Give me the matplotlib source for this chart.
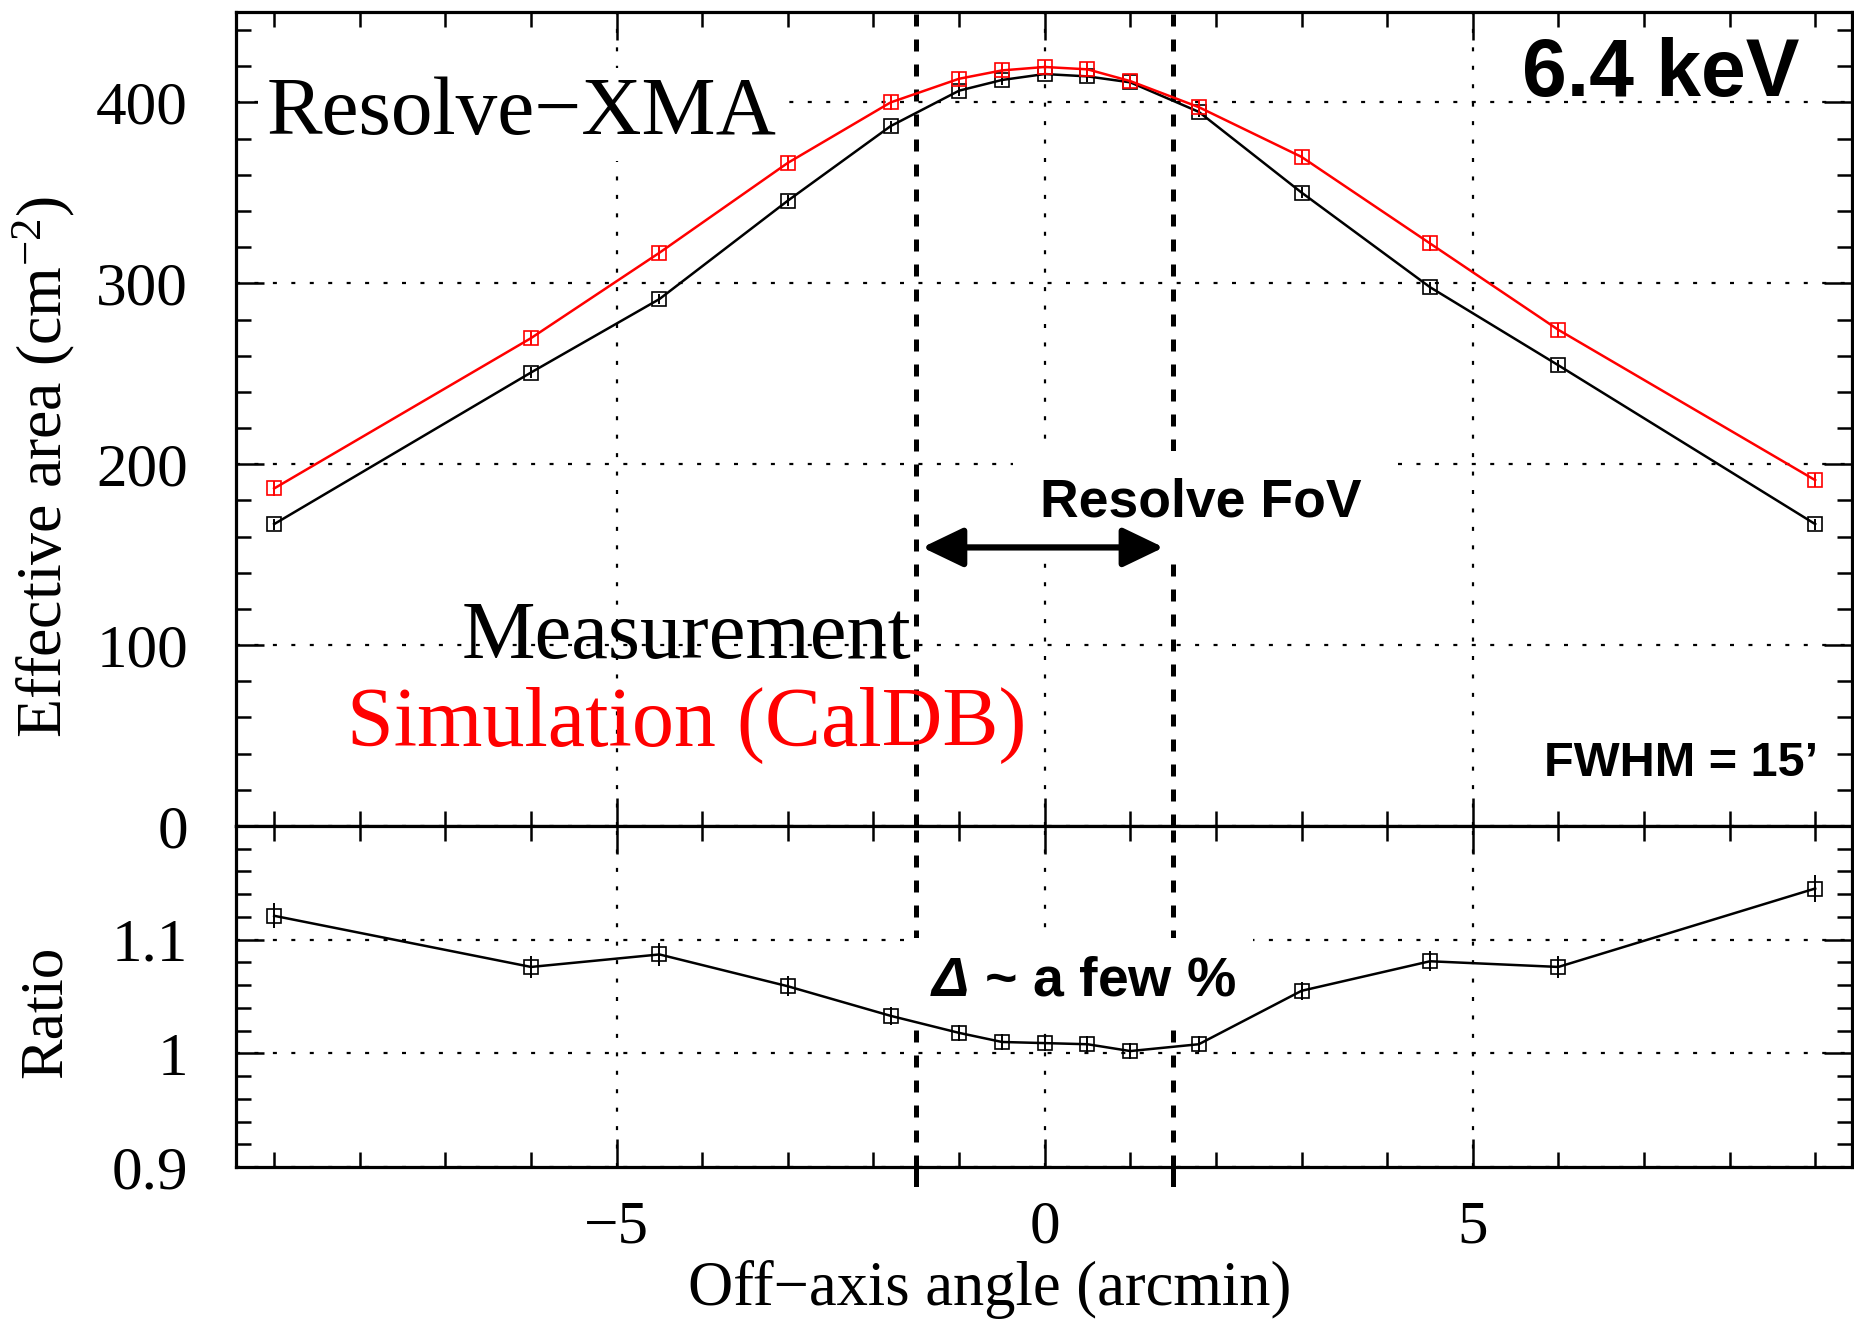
import matplotlib
matplotlib.use('Agg')
import matplotlib.pyplot as plt
from matplotlib.ticker import MultipleLocator, FixedLocator

# off-axis scan at 6.4 keV
angle = [-9, -6, -4.5, -3, -1.8, -1, -0.5, 0, 0.5, 1, 1.8, 3, 4.5, 6, 9]
area_meas = [166.9, 250.7, 291.3, 345.7, 386.9, 406.5, 412.4, 415.7, 414.4, 411.1, 394.8, 350.2, 297.9, 254.7, 166.9]
area_meas_err = [3, 3, 3, 3, 3, 3, 3, 3, 3, 3, 3, 3, 3, 3, 3]
area_sim = [186.6, 269.7, 316.9, 366.6, 400.0, 413.1, 417.7, 419.6, 418.3, 411.8, 397.4, 369.9, 322.1, 274.3, 191.2]
area_sim_err = [4, 4, 4, 4, 4, 4, 4, 4, 4, 4, 4, 4, 4, 4, 4]
ratio = [1.121, 1.076, 1.087, 1.059, 1.033, 1.018, 1.010, 1.009, 1.008, 1.002, 1.008, 1.055, 1.081, 1.076, 1.145]
ratio_err = [0.011, 0.010, 0.010, 0.009, 0.008, 0.007, 0.007, 0.007, 0.007, 0.007, 0.007, 0.008, 0.009, 0.010, 0.012]

fov_half = 1.5
area_ticks = [0, 100, 200, 300, 400]
ratio_ticks = [0.9, 1.0, 1.1]
ratio_labels = ['0.9', '1', '1.1']
x_ticks = [-5, 0, 5]

plt.rcParams['font.family'] = ['Liberation Serif', 'DejaVu Serif']
plt.rcParams['mathtext.fontset'] = 'custom'
plt.rcParams['mathtext.rm'] = 'Liberation Serif'
plt.rcParams['mathtext.it'] = 'Liberation Serif:italic'
plt.rcParams['mathtext.bfit'] = 'Liberation Sans:italic:bold'

SANS = ['Liberation Sans', 'DejaVu Sans']

fig = plt.figure(figsize=(18.54, 13.21), dpi=100)
ax1 = fig.add_axes([0.12756, 0.37472, 0.87136, 0.6162])
ax2 = fig.add_axes([0.12756, 0.11658, 0.87136, 0.25814])

grid_ls = (0, (1.8, 6.5))
for ax in (ax1, ax2):
    ax.set_xlim(-9.44, 9.43)
    ax.xaxis.set_major_locator(FixedLocator(x_ticks))
    ax.xaxis.set_minor_locator(MultipleLocator(1))
    ax.tick_params(which='both', direction='in', top=True, right=True, width=1.8)
    ax.tick_params(which='major', length=20, labelsize=44)
    ax.tick_params(which='minor', length=10.5)
    ax.tick_params(axis='y', pad=35)
    ax.tick_params(axis='x', pad=24)
    ax.grid(True, which='major', color='k', lw=1.6, linestyle=grid_ls, zorder=1)
    ax.set_axisbelow(True)
    for s in ax.spines.values():
        s.set_linewidth(2.3)
    ax.axvline(-fov_half, color='k', lw=3.6, linestyle=(0, (2.4, 2.6)), zorder=2)
    ax.axvline(fov_half, color='k', lw=3.6, linestyle=(0, (2.4, 2.6)), zorder=2)

# upper panel: effective area
ax1.set_ylim(0, 450)
ax1.yaxis.set_major_locator(FixedLocator(area_ticks))
ax1.yaxis.set_minor_locator(MultipleLocator(20))
ax1.tick_params(axis='x', labelbottom=False)

ax1.errorbar(angle, area_meas, yerr=area_meas_err, fmt='s-', color='k', mfc='none', mec='k',
             ms=9.5, mew=1.2, lw=1.8, elinewidth=1.4, capsize=0, zorder=4)
ax1.errorbar(angle, area_sim, yerr=area_sim_err, fmt='s-', color='red', mfc='none', mec='red',
             ms=9.5, mew=1.2, lw=1.8, elinewidth=1.4, capsize=0, zorder=5)

wbox = dict(facecolor='white', edgecolor='none', boxstyle='square,pad=0.3')
ax1.text(-9.09, 382.4, 'Resolve\u2212XMA', fontsize=60, ha='left', va='baseline',
         bbox=dict(facecolor='white', edgecolor='none', boxstyle='square,pad=0.1'), zorder=3)
ax1.text(8.82, 403.3, '6.4 keV', fontsize=58, family=SANS, weight='bold', ha='right', va='baseline', zorder=3)
ax1.text(-4.18, 92.9, 'Measurement', fontsize=59.5, color='k', ha='center', va='baseline', zorder=3)
ax1.text(-4.18, 44.5, 'Simulation (CalDB)', fontsize=60.5, color='red', ha='center', va='baseline', zorder=3)
ax1.text(9.03, 27.4, 'FWHM = 15\u2019', fontsize=35, family=SANS, weight='bold', ha='right', va='baseline', zorder=3)
ax1.text(1.82, 171.0, 'Resolve FoV', fontsize=38.5, family=SANS, weight='bold', ha='center', va='baseline',
         bbox=dict(facecolor='white', edgecolor='none', boxstyle='square,pad=0.5'), zorder=3)
ax1.annotate('', xy=(1.39, 154), xytext=(-1.43, 154),
             arrowprops=dict(arrowstyle='<|-|>,head_length=1.25,head_width=0.6', color='k', lw=4.5,
                             mutation_scale=20, shrinkA=0, shrinkB=0), zorder=6)

# lower panel: ratio
ax2.set_ylim(0.9, 1.2)
ax2.yaxis.set_major_locator(FixedLocator(ratio_ticks))
ax2.set_yticklabels(ratio_labels)
ax2.yaxis.set_minor_locator(MultipleLocator(0.02))
ax2.errorbar(angle, ratio, yerr=ratio_err, fmt='s-', color='k', mfc='none', mec='k',
             ms=9.5, mew=1.2, lw=1.8, elinewidth=1.4, capsize=0, zorder=4)
for xv in (-fov_half, fov_half):
    ax2.plot([xv, xv], [0.885, 0.9], color='k', lw=3.6, clip_on=False, zorder=2)
ax2.text(-1.34, 1.0513, r'$\mathbfit{\Delta}$ ~ a few %', fontsize=40, family=SANS, weight='bold',
         ha='left', va='baseline', bbox=wbox, zorder=3)

fig.text(0.0237, 0.6465, 'Effective area (cm$^{-2}$)', fontsize=46, rotation=90, ha='center', va='center')
fig.text(0.0248, 0.234, 'Ratio', fontsize=44, rotation=90, ha='center', va='center')
fig.text(0.534, 0.0242, 'Off\u2212axis angle (arcmin)', fontsize=45, ha='center', va='center')

fig.savefig('out.png', dpi=100)
